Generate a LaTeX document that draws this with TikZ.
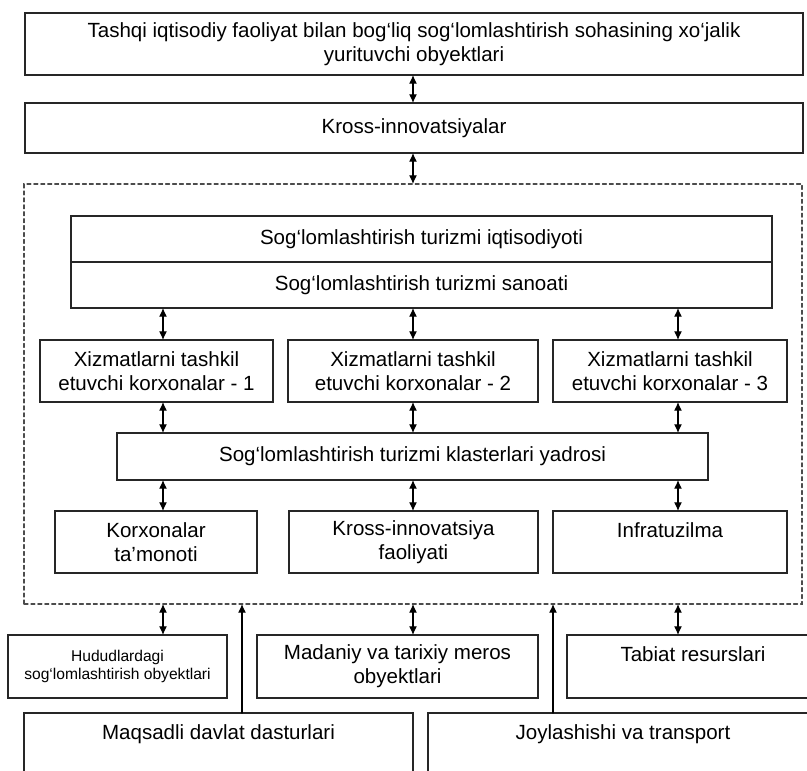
\documentclass[tikz,border=0pt]{standalone}
\usepackage{fontspec}
\setmainfont{Liberation Sans}
\usetikzlibrary{arrows.meta}

\begin{document}
\begin{tikzpicture}
		[x=0.75pt,y=-0.75pt,line cap=round,
		%Styles
		dims/.style 2 args={minimum width=#1*0.75pt,minimum height=#2*0.75pt},
		box/.style={draw=black!85,line width=0.9pt,inner sep=0pt,outer sep=0pt,align=center,font=\fontsize{15.4}{18}\selectfont},
		small box/.style={box,font=\fontsize{11.7}{13.5}\selectfont},
		zone/.style={draw=black!70,line width=0.8pt,dash pattern=on 3pt off 2.2pt,inner sep=0pt,outer sep=0pt},
		link/.style={line width=0.9pt,{Latex[length=6.5pt,width=6pt]}-{Latex[length=6.5pt,width=6pt]}},
		feed/.style={line width=0.9pt,-{Latex[length=6.5pt,width=6pt]}}
		]
		
		\useasboundingbox (0,0) rectangle (807,771);
		
		%Columns of the arrows
		\coordinate (colA) at (163,0);
		\coordinate (colB) at (413,0);
		\coordinate (colC) at (678,0);
		\coordinate (colD) at (242,0);
		\coordinate (colE) at (553,0);
		
		%The graphic
		\node[box,dims={778}{62}] (top) at (414,44) {Tashqi iqtisodiy faoliyat bilan bog‘liq sog‘lomlashtirish sohasining xo‘jalik\\yurituvchi obyektlari};
		\node[box,dims={778}{50}] (kross) at (414,128) {Kross-innovatsiyalar};
		\node[zone,dims={778}{420}] (zone) at (413,394) {};
		
		\node[box,dims={701}{46}] (econ) at (421.5,239) {Sog‘lomlashtirish turizmi iqtisodiyoti};
		\node[box,dims={701}{46}] (industry) at (421.5,285) {Sog‘lomlashtirish turizmi sanoati};
		
		\node[box,dims={233}{62}] (serv1) at (156.5,371) {Xizmatlarni tashkil\\etuvchi korxonalar - 1};
		\node[box,dims={250}{62}] (serv2) at (413,371) {Xizmatlarni tashkil\\etuvchi korxonalar - 2};
		\node[box,dims={234}{62}] (serv3) at (670,371) {Xizmatlarni tashkil\\etuvchi korxonalar - 3};
		
		\node[box,dims={591}{47}] (core) at (412.5,456.5) {Sog‘lomlashtirish turizmi klasterlari yadrosi};
		
		\node[box,dims={202}{62}] (part1) at (156,542) {Korxonalar\\ta’monoti};
		\node[box,dims={249}{62}] (part2) at (413.5,542) {Kross-innovatsiya\\faoliyati};
		\node[box,dims={234}{62}] (part3) at (670,542) {Infratuzilma\\\mbox{}};
		
		\node[small box,dims={219}{63}] (src1) at (117.5,666.5) {Hududlardagi\\sog‘lomlashtirish obyektlari};
		\node[box,dims={281}{63}] (src2) at (397.5,666.5) {Madaniy va tarixiy meros\\obyektlari};
		\node[box,dims={252}{63}] (src3) at (693,666.5) {Tabiat resurslari\\\mbox{}};
		
		\node[box,dims={389}{63}] (prog) at (218.5,744.5) {Maqsadli davlat dasturlari\\\mbox{}};
		\node[box,dims={390}{63}] (place) at (623,744.5) {Joylashishi va transport\\\mbox{}};
		
		%Arrows
		\draw[link] (top.south -| colB) -- (kross.north -| colB);
		\draw[link] (kross.south -| colB) -- (zone.north -| colB);
		\foreach \c/\n in {colA/1,colB/2,colC/3}{
			\draw[link] (industry.south -| \c) -- (serv\n.north -| \c);
			\draw[link] (serv\n.south -| \c) -- (core.north -| \c);
			\draw[link] (core.south -| \c) -- (part\n.north -| \c);
			\draw[link] (zone.south -| \c) -- (src\n.north -| \c);
		}
		\draw[feed] (prog.north -| colD) -- (zone.south -| colD);
		\draw[feed] (place.north -| colE) -- (zone.south -| colE);
	\end{tikzpicture}
\end{document}
